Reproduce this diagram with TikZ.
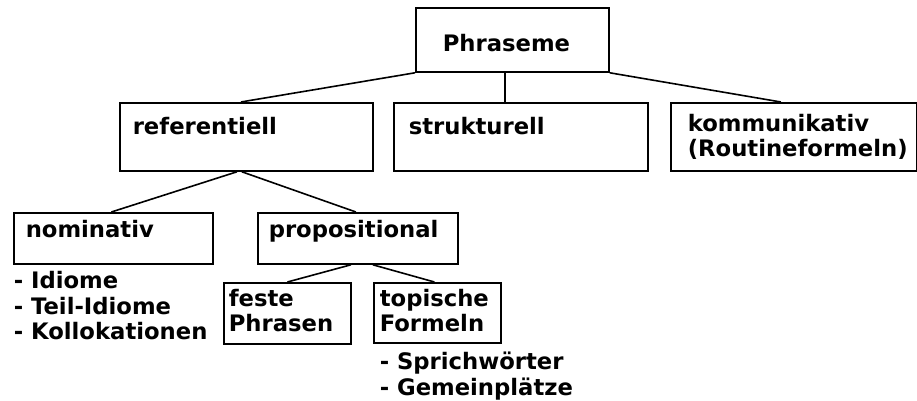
\documentclass[tikz,border=0pt]{standalone}
\usepackage{fontspec}
\setmainfont{DejaVu Sans}
\usetikzlibrary{positioning,calc}
\newcommand{\boxlines}[1]{\begin{tabular}[t]{@{}l@{}}#1\end{tabular}}
\tikzset{%
  every box/.style={
    draw,
    line width=1.8pt,
    anchor=north west,
    inner sep=0pt
  },
  box text/.style={
    anchor=base west,
    inner sep=0pt,
    font=\bfseries\fontsize{22.7}{25.5}\selectfont
  },
}

\begin{document}
\begin{tikzpicture}[x=1pt, y=-1pt, line width=1.6pt]
  \useasboundingbox (0,0) rectangle (917,401);
  \foreach \n/\x/\y/\w/\h in {phr/415/7/193/64, ref/119/102/253/68, str/393/102/254/68, kom/670/102/246/68, nom/13/212/199/51, prop/257/212/200/51, fes/223/282/127/61, top/373/282/127/60}
    \node [every box, minimum width=\w pt, minimum height=\h pt] (\n) at (\x,\y) {};

  \foreach \n/\dx/\dy/\t in {phr/27/45/Phraseme, ref/13/32/referentiell, str/15/32/strukturell, kom/17/29/{kommunikativ\\(Routineformeln)}, nom/12/25/nominativ, prop/11/25/propositional, fes/5/24/{feste\\Phrasen}, top/6/24/{topische\\Formeln}}
    \node [box text] (\n-t) at ([shift={(\dx,\dy)}]\n.north west) {\boxlines{\t}};

  \node [box text] (nom-list) at ([shift={(0,24)}]nom.south west) {\boxlines{- Idiome\\- Teil-Idiome\\- Kollokationen}};
  \node [box text] (top-list) at ([shift={(6,26)}]top.south west) {\boxlines{- Sprichwörter\\- Gemeinplätze}};

  \draw (phr.south west) -- ([xshift=-5.5pt]ref.north);
  \draw ([xshift=-7.5pt]phr.south) -- ([xshift=-7.5pt]phr.south |- str.north);
  \draw (phr.south east) -- ([xshift=-13pt]kom.north);
  \draw ([xshift=-9.5pt]ref.south) -- ([xshift=-2pt]nom.north);
  \draw ([xshift=-4.5pt]ref.south) -- ([xshift=-2pt]prop.north);
  \draw ([xshift=-7pt]prop.south) -- (fes.north);
  \draw ([xshift=15pt]prop.south) -- ([xshift=-3pt]top.north);
\end{tikzpicture}
\end{document}
